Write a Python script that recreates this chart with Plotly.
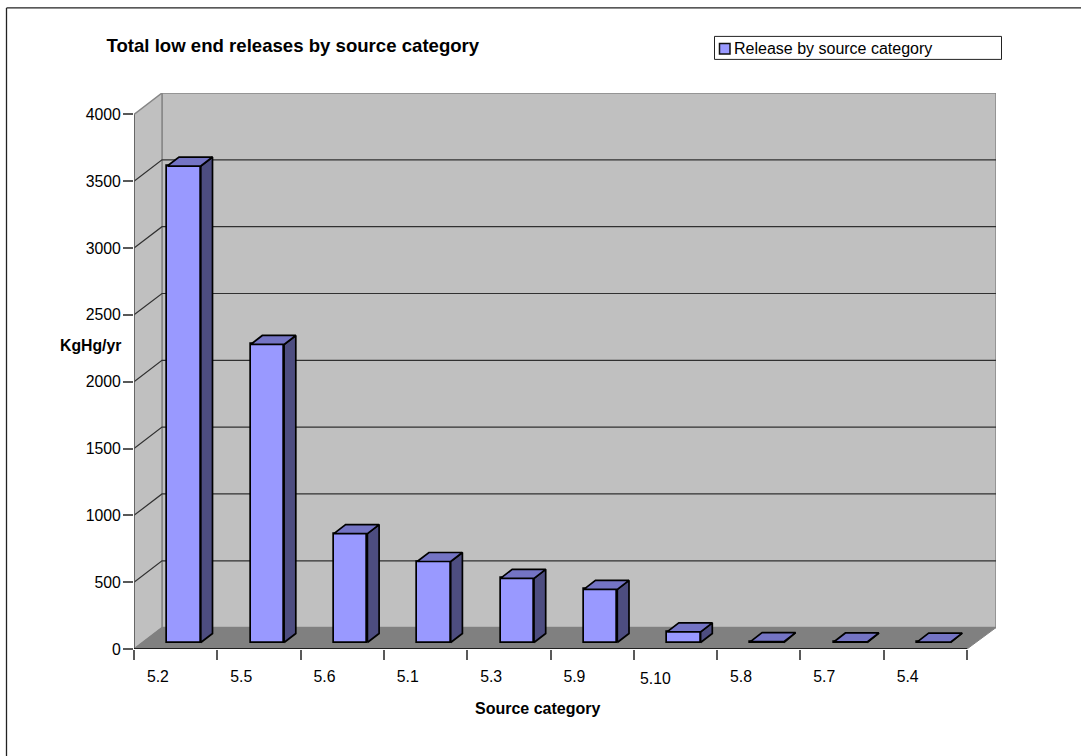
import plotly.graph_objects as go

# Release totals per source category, largest first
categories = ["5.2", "5.5", "5.6", "5.1", "5.3", "5.9", "5.10", "5.8", "5.7", "5.4"]
releases = [3565, 2230, 815, 606, 480, 397, 80, 6, 4, 3]
value_ticks = [0, 500, 1000, 1500, 2000, 2500, 3000, 3500, 4000]

chart_title = "Total low end releases by source category"
series_name = "Release by source category"
x_title = "Source category"
y_title = "KgHg/yr"

WIDTH, HEIGHT = 1081, 756
FONT = "Liberation Sans, Arial, sans-serif"
FONT_SIZE = 15.8

# Page-pixel box of the plotting area (front-left corner to back-right corner)
LEFT, RIGHT, TOP, BOTTOM = 134, 996, 92.6, 648.6
PX_PER_CAT = 83.3
PX_PER_UNIT = (648.3 - 113.7) / 4000

x_max = (RIGHT - LEFT) / PX_PER_CAT
y_max = (BOTTOM - TOP) / PX_PER_UNIT
n = len(categories)

# Oblique projection: how far the back wall is shifted from the front plane
wall_dx = 28 / PX_PER_CAT
wall_dy = 21.4 / PX_PER_UNIT
# Bars stand partway into the floor
bar_dx = 8.4 / PX_PER_CAT
bar_dy = 6.5 / PX_PER_UNIT
bar_w = 33.5 / PX_PER_CAT
depth_dx = 11.7 / PX_PER_CAT
depth_dy = 9 / PX_PER_UNIT


def px(x):
    return (x - LEFT) / (RIGHT - LEFT)


def py(y):
    return (BOTTOM - y) / (BOTTOM - TOP)


def poly(points):
    return "M" + " L".join(f"{a},{b}" for a, b in points) + " Z"


WALL = "#C0C0C0"
FLOOR = "#808080"
EDGE = "#868686"
GRID = "#303030"
AXIS = "#595959"
BAR_FRONT = "#9999FF"
BAR_SIDE = "#4D4D80"
BAR_TOP = "#7474C4"

shapes = [
    # Back wall, side wall and floor
    dict(type="path", layer="below", xref="x", yref="y", fillcolor=WALL,
         line=dict(color=EDGE, width=1.5),
         path=poly([(wall_dx, wall_dy), (x_max, wall_dy), (x_max, y_max), (wall_dx, y_max)])),
    dict(type="path", layer="below", xref="x", yref="y", fillcolor=WALL,
         line=dict(color=EDGE, width=1.5),
         path=poly([(0, 0), (wall_dx, wall_dy), (wall_dx, y_max), (0, 4000)])),
    dict(type="path", layer="below", xref="x", yref="y", fillcolor=FLOOR,
         line=dict(color=FLOOR, width=1),
         path=poly([(0, 0), (n, 0), (x_max, wall_dy), (wall_dx, wall_dy)])),
]

# Gridlines run along the side wall, then across the back wall
for v in value_ticks[1:-1]:
    shapes.append(dict(type="path", layer="below", xref="x", yref="y",
                       line=dict(color=GRID, width=1.2),
                       path=f"M0,{v} L{wall_dx},{v + wall_dy} L{x_max},{v + wall_dy}"))

# Front edges of the box
shapes.append(dict(type="line", layer="below", xref="x", yref="y", x0=0, x1=0, y0=0, y1=4000,
                   line=dict(color=AXIS, width=1.5)))
shapes.append(dict(type="line", layer="above", xref="x", yref="y", x0=0, x1=n, y0=0, y1=0,
                   line=dict(color="#000000", width=1.5)))

# Page border: only the top and left rules fall on the page
shapes.append(dict(type="line", xref="paper", yref="paper", x0=px(6.5), x1=px(1081),
                   y0=py(7.5), y1=py(7.5), line=dict(color="#222222", width=1.3)))
shapes.append(dict(type="line", xref="paper", yref="paper", x0=px(6.5), x1=px(6.5),
                   y0=py(7.5), y1=py(756), line=dict(color="#222222", width=1.3)))

# Legend box and swatch
shapes.append(dict(type="rect", xref="paper", yref="paper", x0=px(714.5), x1=px(1001.5),
                   y0=py(36), y1=py(59), fillcolor="#FFFFFF",
                   line=dict(color="#222222", width=1)))
shapes.append(dict(type="rect", xref="paper", yref="paper", x0=px(719.5), x1=px(730),
                   y0=py(43), y1=py(53.5), fillcolor=BAR_FRONT,
                   line=dict(color="#111111", width=1.5)))

fig = go.Figure()

centers = [i + 0.5 + bar_dx for i in range(n)]

# Front faces of the columns
fig.add_trace(go.Bar(
    x=centers, y=releases, base=[bar_dy] * n, width=bar_w, name=series_name,
    marker=dict(color=BAR_FRONT, line=dict(color="#000000", width=1.7)),
    showlegend=False,
))

# Side and top faces follow from each value
for c, v in zip(centers, releases):
    x0, x1 = c - bar_w / 2, c + bar_w / 2
    y0, y1 = bar_dy, bar_dy + v
    fig.add_trace(go.Scatter(
        x=[x1, x1 + depth_dx, x1 + depth_dx, x1, x1],
        y=[y0, y0 + depth_dy, y1 + depth_dy, y1, y0],
        mode="lines", fill="toself", fillcolor=BAR_SIDE,
        line=dict(color="#000000", width=1.7), showlegend=False, hoverinfo="skip",
    ))
    fig.add_trace(go.Scatter(
        x=[x0, x0 + depth_dx, x1 + depth_dx, x1, x0],
        y=[y1, y1 + depth_dy, y1 + depth_dy, y1, y1],
        mode="lines", fill="toself", fillcolor=BAR_TOP,
        line=dict(color="#000000", width=1.7), showlegend=False, hoverinfo="skip",
    ))

label_offset = 0.287
plain = [i for i, c in enumerate(categories) if c != "5.10"]

annotations = [
    dict(text=f"<b>{x_title}</b>", xref="paper", yref="paper", x=px(537.5), y=py(708), showarrow=False,
         font=dict(family=FONT, size=16, color="#000000"), xanchor="center", yanchor="middle"),
    dict(text=f"<b>{y_title}</b>", xref="paper", yref="paper", x=px(57.5), y=py(345), showarrow=False,
         font=dict(family=FONT, size=15.8, color="#000000"), xanchor="left", yanchor="middle"),
    dict(text=series_name, xref="paper", yref="paper", x=px(731.5), y=py(48), showarrow=False,
         font=dict(family=FONT, size=16, color="#000000"), xanchor="left", yanchor="middle"),
    # The two-decimal label sits slightly lower than the others
    dict(text=categories[6], xref="x", yref="y", x=6 + 0.262, y=0, yshift=-29.5, showarrow=False,
         font=dict(family=FONT, size=FONT_SIZE, color="#000000"), xanchor="center", yanchor="middle"),
]

fig.update_layout(
    width=WIDTH, height=HEIGHT, autosize=False,
    margin=dict(l=LEFT, r=WIDTH - RIGHT, t=TOP, b=HEIGHT - BOTTOM, pad=0),
    paper_bgcolor="#FFFFFF", plot_bgcolor="rgba(0,0,0,0)",
    title=dict(text=f"<b>{chart_title}</b>", xref="container", yref="container",
               x=106.5 / WIDTH, xanchor="left", y=1 - 45.5 / HEIGHT, yanchor="middle",
               font=dict(family=FONT, size=18.6, color="#000000")),
    font=dict(family=FONT, size=FONT_SIZE, color="#000000"),
    shapes=shapes, annotations=annotations, showlegend=False, bargap=0,
    xaxis=dict(
        range=[0, x_max], showgrid=False, zeroline=False, showline=False,
        tickmode="array", tickvals=[i + label_offset for i in plain],
        ticktext=[categories[i] for i in plain], ticks="", ticklen=0,
        ticklabelstandoff=16, tickfont=dict(family=FONT, size=FONT_SIZE),
        minor=dict(tickmode="linear", tick0=0, dtick=1, ticks="outside", ticklen=9.5,
                   tickcolor=AXIS, tickwidth=1.5, showgrid=False),
    ),
    yaxis=dict(
        range=[0, y_max], showgrid=False, zeroline=False, showline=False,
        tickmode="array", tickvals=value_ticks, ticks="outside", ticklen=10,
        ticklabelstandoff=-1, tickcolor=AXIS, tickwidth=1.5,
        tickfont=dict(family=FONT, size=FONT_SIZE),
    ),
)

fig.write_html("out.html", config=dict(displayModeBar=False))
